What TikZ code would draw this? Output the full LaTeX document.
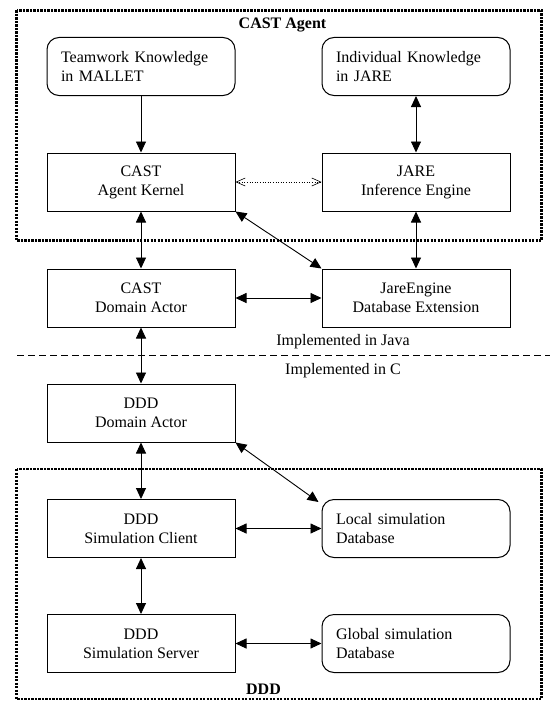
\documentclass[tikz,border=0pt]{standalone}
\usepackage{fontspec}
\setmainfont{Liberation Serif}
\usetikzlibrary{arrows.meta}
\begin{document}
\begin{tikzpicture}[x=1pt,y=-1pt,
  txt/.style={font=\fontsize{16}{19}\selectfont},
  rbox/.style={txt,draw,line width=1pt,minimum width=188pt,minimum height=58pt,align=center,inner sep=0pt},
  kbox/.style={txt,draw,line width=1pt,rounded corners=12pt,minimum width=188pt,minimum height=58pt,text width=160pt,align=left,inner xsep=14pt,inner ysep=0pt},
  frame/.style={line width=2.6pt,dash pattern=on 2.4pt off 1.1pt},
  arr/.style={line width=0.9pt,{Triangle[length=11pt,width=10pt]}-{Triangle[length=11pt,width=10pt]}},
  sarr/.style={line width=0.9pt,-{Triangle[length=11pt,width=10pt]}},
  darr/.style={line width=0.6pt,dotted,{Straight Barb[length=9pt,width=8pt]}-{Straight Barb[length=9pt,width=8pt]}}
]
\useasboundingbox (0,0) rectangle (550,701);
\fill[white] (0,0) rectangle (550,701);

% frames
\draw[frame] (16.5,10.5) rectangle (541.5,240.5);
\draw[frame] (16.5,469) rectangle (541.5,699);
\node[txt,font=\fontsize{16}{19}\selectfont\bfseries,anchor=base] (castlabel) at (282.5,29) {CAST Agent};
\node[txt,font=\fontsize{16}{19}\selectfont\bfseries,anchor=base] (dddlabel) at (263.5,694) {DDD};

% nodes
\node[kbox] (team) at (141,66.5) {Teamwork Knowledge\\in MALLET};
\node[kbox] (indiv) at (416,66.5) {Individual Knowledge\\in JARE};
\node[rbox] (kernel) at (141,182) {CAST\\Agent Kernel};
\node[rbox] (jare) at (416,182) {JARE\\Inference Engine};
\node[rbox] (cda) at (141,298) {CAST\\Domain Actor};
\node[rbox] (jdb) at (416,298) {JareEngine\\Database Extension};
\node[rbox] (dda) at (141,413) {DDD\\Domain Actor};
\node[rbox] (client) at (141,528.5) {DDD\\Simulation Client};
\node[rbox] (server) at (141,643.5) {DDD\\Simulation Server};
\node[kbox] (local) at (416,528.5) {Local simulation\\Database};
\node[kbox] (global) at (416,643.5) {Global simulation\\Database};

% language labels and separator
\node[txt] (java) at (343,341.5) {Implemented in Java};
\node[txt] (cimpl) at (343,370.5) {Implemented in C};
\coordinate (sepL) at (17,355.5);
\coordinate (sepR) at (550,355.5);
\draw[line width=0.7pt,dash pattern=on 7pt off 4pt] (sepL) -- (sepR);

% connectors
\draw[sarr] (team) -- (kernel);
\draw[arr] (indiv) -- (jare);
\draw[darr] (kernel) -- (jare);
\draw[arr] (kernel) -- (cda);
\draw[arr] (kernel.south east) -- (jdb.north west);
\draw[arr] (jare) -- (jdb);
\draw[arr] (cda) -- (jdb);
\draw[arr] (cda) -- (dda);
\draw[arr] (dda) -- (client);
\draw[arr] (dda.south east) -- ([xshift=-3pt,yshift=-3pt]local.north west);
\draw[arr] (client) -- (local);
\draw[arr] (client) -- (server);
\draw[arr] (server) -- (global);
\end{tikzpicture}
\end{document}
